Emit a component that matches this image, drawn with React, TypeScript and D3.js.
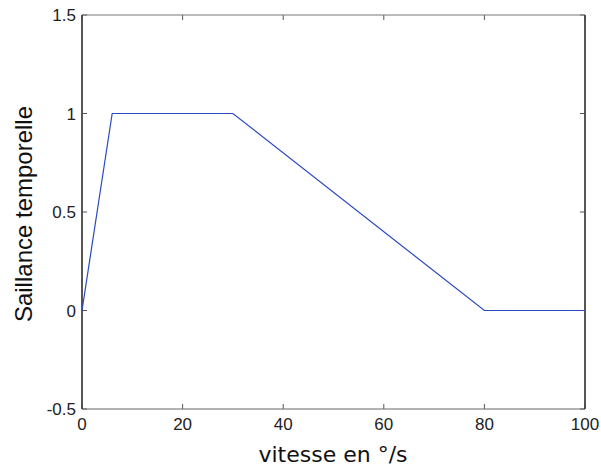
import React from "react";
import * as d3 from "d3";

const speeds = [0, 6, 30, 80, 100];
const saliency = [0, 1, 1, 0, 0];
const xTicks = [0, 20, 40, 60, 80, 100];
const yTicks = [-0.5, 0, 0.5, 1, 1.5];
const xLabel = "vitesse en °/s";
const yLabel = "Saillance temporelle";

const W = 601;
const H = 468;
const L = 82, R = 585, T = 15, B = 409;

export default function App() {
  const x = d3.scaleLinear().domain([0, 100]).range([L, R]);
  const y = d3.scaleLinear().domain([-0.5, 1.5]).range([B, T]);
  const pts = speeds.map((s, i) => [s, saliency[i]] as [number, number]);
  const line = d3.line<[number, number]>().x(d => x(d[0])).y(d => y(d[1]));
  const tl = 5;
  const tickFont = "'Liberation Sans', Arial, sans-serif";
  return (
    <svg width={W} height={H} style={{ position: "absolute", left: 0, top: 0, background: "#fff" }}>
      <rect x={0} y={0} width={W} height={H} fill="#fff" />
      {/* ticks */}
      {xTicks.map(t => (
        <g key={"x" + t}>
          <line x1={x(t)} x2={x(t)} y1={B} y2={B - tl} stroke="#555" strokeWidth={1} />
          <line x1={x(t)} x2={x(t)} y1={T} y2={T + tl} stroke="#555" strokeWidth={1} />
          <text x={x(t)} y={430} textAnchor="middle" fontFamily={tickFont} fontSize={17} fill="#222">{t}</text>
        </g>
      ))}
      {yTicks.map(t => (
        <g key={"y" + t}>
          <line x1={L} x2={L + tl} y1={y(t)} y2={y(t)} stroke="#555" strokeWidth={1} />
          <line x1={R} x2={R - tl} y1={y(t)} y2={y(t)} stroke="#555" strokeWidth={1} />
          <text x={76} y={y(t)} dy="0.36em" textAnchor="end" fontFamily={tickFont} fontSize={17} fill="#222">{t}</text>
        </g>
      ))}
      {/* box */}
      <line x1={L} x2={R} y1={T} y2={T} stroke="#777" strokeWidth={1} />
      <line x1={L} x2={R} y1={B} y2={B} stroke="#666" strokeWidth={1} />
      <line x1={L} x2={L} y1={T} y2={B} stroke="#444" strokeWidth={1.8} />
      <line x1={R} x2={R} y1={T} y2={B} stroke="#444" strokeWidth={1.8} />
      {/* data */}
      <path d={line(pts) || ""} fill="none" stroke="#2848c0" strokeWidth={1.2} />
      {/* labels */}
      <text x={333} y={462} textAnchor="middle" fontFamily="'DejaVu Sans', sans-serif" fontSize={22} fill="#111">{xLabel}</text>
      <text transform={`translate(32,214) rotate(-90)`} textAnchor="middle" fontFamily="'Liberation Sans', Arial, sans-serif" fontSize={24} fill="#111">{yLabel}</text>
    </svg>
  );
}
